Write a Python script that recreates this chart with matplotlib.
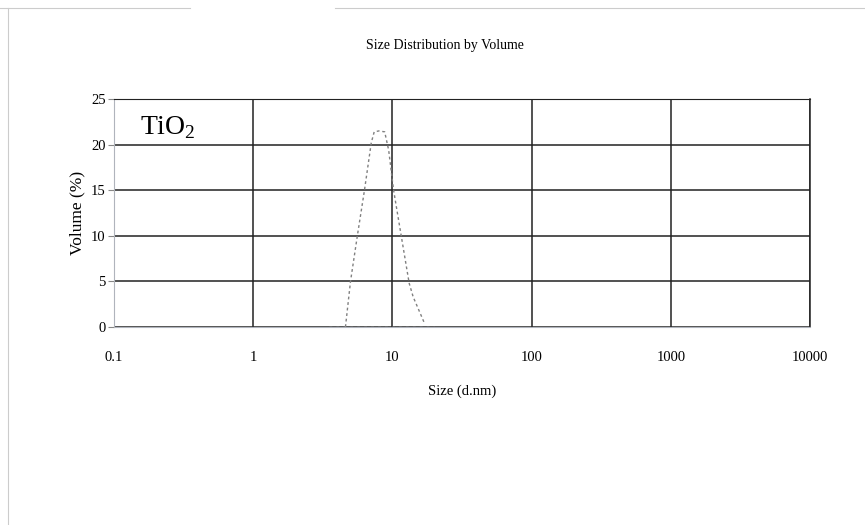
import matplotlib
matplotlib.use('Agg')
import matplotlib.pyplot as plt
from matplotlib.lines import Line2D

# size distribution by volume, TiO2
size_nm = [4.6, 5.0, 5.6, 6.3, 7.05, 7.4, 8.0, 8.8, 9.4, 10.2, 11.6, 13.2, 14.1, 16.9]
volume = [0.0, 5.0, 10.0, 15.0, 20.2, 21.4, 21.5, 21.4, 19.4, 15.0, 9.9, 4.8, 3.3, 0.5]

xticks = [0.1, 1, 10, 100, 1000, 10000]
xtick_labels = ['0.1', '1', '10', '100', '1000', '10000']
yticks = [0, 5, 10, 15, 20, 25]

serif = 'Liberation Serif'
plt.rcParams['mathtext.fontset'] = 'custom'
plt.rcParams['mathtext.rm'] = serif

fig = plt.figure(figsize=(8.65, 5.25), dpi=100)
ax = fig.add_axes([114/865, 1-327/525, (810-114)/865, (327-99)/525])

ax.set_xscale('log')
ax.set_xlim(0.1, 10000)
ax.set_ylim(0, 25)

ax.plot(size_nm, volume, color='#808080', ls=(0, (2, 2)), lw=1.0)
ax.plot([3.5, 20], [0, 0], color='#9aa0aa', ls=(0, (2, 3)), lw=1.0)

ax.grid(True, which='major', color='#222222', lw=1.1)
ax.set_axisbelow(True)
ax.minorticks_off()
ax.set_xticks(xticks)
ax.set_xticklabels(xtick_labels, fontfamily=serif, fontsize=10.5)
ax.set_yticks(yticks)
ax.set_yticklabels([str(v) for v in yticks], fontfamily=serif, fontsize=10.5)
ax.tick_params(axis='x', length=0, pad=17)
ax.tick_params(axis='y', length=4, width=0.8, color='#888888', pad=2)

for side in ['left', 'bottom']:
    ax.spines[side].set_color('#b0b4bc')
    ax.spines[side].set_linewidth(0.8)
ax.spines['top'].set_color('#222222')
ax.spines['right'].set_color('#222222')
ax.spines['right'].set_linewidth(1.1)

ax.set_xlabel('Size (d.nm)', fontfamily=serif, fontsize=10.5, labelpad=15)
ax.set_ylabel('Volume (%)', fontfamily=serif, fontsize=12.5, labelpad=4)
fig.text(445/865, 1-46/525, 'Size Distribution by Volume', ha='center', va='center',
         fontfamily=serif, fontsize=10)
ax.text(0.037, 0.875, r'TiO$_2$', transform=ax.transAxes, fontfamily=serif,
        fontsize=20, ha='left', va='center')

# faint page border from the scan
fig.add_artist(Line2D([8/865, 8/865], [0, 1-8/525], transform=fig.transFigure,
                      color='#cccccc', lw=0.8))
fig.add_artist(Line2D([0, 190/865], [1-8/525, 1-8/525], transform=fig.transFigure,
                      color='#cccccc', lw=0.8))
fig.add_artist(Line2D([335/865, 1], [1-8/525, 1-8/525], transform=fig.transFigure,
                      color='#cccccc', lw=0.8))

fig.savefig('out.png', dpi=100)
